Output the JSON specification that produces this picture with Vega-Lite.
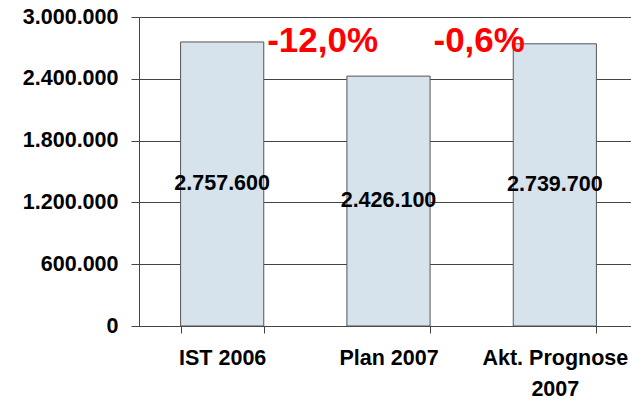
{
  "$schema": "https://vega.github.io/schema/vega-lite/v6.json",
  "autosize": {"type": "none"},
  "width": 499,
  "height": 309,
  "padding": {"left": 139, "top": 17, "right": 0, "bottom": 75},
  "background": "white",
  "config": {
    "locale": {"number": {"decimal": ",", "thousands": ".", "grouping": [3], "currency": ["", " €"]}},
    "view": {"stroke": null},
    "font": "Liberation Sans"
  },
  "data": {
    "values": [
      {"cat": "IST 2006", "value": 2757600, "change": "-12,0%"},
      {"cat": "Plan 2007", "value": 2426100, "change": "-0,6%"},
      {"cat": "Akt. Prognose 2007", "value": 2739700, "change": null}
    ]
  },
  "encoding": {
    "x": {
      "field": "cat",
      "type": "nominal",
      "sort": null,
      "scale": {"paddingInner": 0.5, "paddingOuter": 0.25},
      "axis": {
        "title": null,
        "labelAngle": 0,
        "labelFont": "Liberation Sans",
        "labelFontWeight": "bold",
        "labelFontSize": 21.5,
        "labelColor": "black",
        "labelPadding": 14,
        "labelLineHeight": 31,
        "labelExpr": "datum.label == 'Akt. Prognose 2007' ? ['Akt. Prognose', '2007'] : datum.label",
        "tickBand": "extent",
        "tickSize": 7,
        "tickColor": "#444",
        "domainColor": "#444",
        "grid": false
      }
    }
  },
  "layer": [
    {
      "mark": {"type": "bar", "fill": "#d6e2ec", "stroke": "#555", "strokeWidth": 1},
      "encoding": {
        "y": {
          "field": "value",
          "type": "quantitative",
          "scale": {"domain": [0, 3000000], "nice": false},
          "axis": {
            "title": null,
            "values": [0, 600000, 1200000, 1800000, 2400000, 3000000],
            "format": ",d",
            "labelFont": "Liberation Sans",
            "labelFontWeight": "bold",
            "labelFontSize": 21.5,
            "labelColor": "black",
            "labelPadding": 13,
            "tickSize": 8,
            "tickColor": "#444",
            "domainColor": "#444",
            "gridColor": "#444",
            "gridOpacity": 1,
            "grid": true
          }
        }
      }
    },
    {
      "mark": {"type": "text", "font": "Liberation Sans", "fontWeight": "bold", "fontSize": 21.5, "color": "black", "baseline": "middle"},
      "encoding": {
        "y": {"field": "value", "type": "quantitative", "scale": {"domain": [0, 6000000], "nice": false}, "axis": null},
        "text": {"field": "value", "type": "quantitative", "format": ",d"}
      }
    },
    {
      "transform": [{"filter": "datum.change != null"}],
      "mark": {"type": "text", "font": "Liberation Sans", "fontWeight": "bold", "fontSize": 35, "color": "#ff0000", "align": "left", "baseline": "middle", "dx": 45},
      "encoding": {
        "y": {"datum": 2770000, "type": "quantitative", "scale": {"domain": [0, 3000000], "nice": false}, "axis": null},
        "text": {"field": "change", "type": "nominal"}
      }
    }
  ],
  "resolve": {"scale": {"y": "independent"}}
}
